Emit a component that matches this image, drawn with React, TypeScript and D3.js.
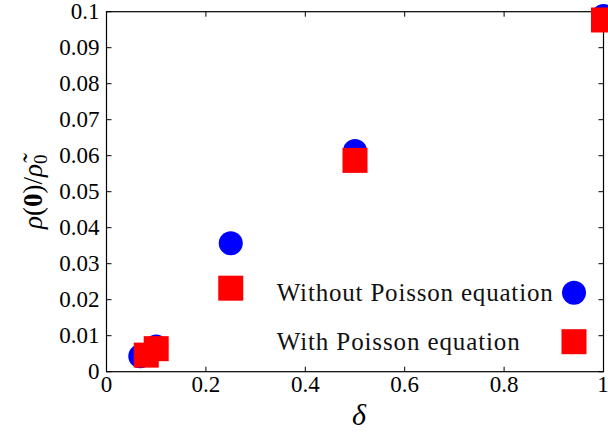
import React, { useEffect, useRef } from "react";
import * as d3 from "d3";

// delta values and normalised central density
const deltaWithout = [0.068, 0.1, 0.25, 0.5, 1.0];
const rhoWithout = [0.0043, 0.007, 0.0357, 0.0613, 0.0988];
const deltaWith = [0.08, 0.1, 0.25, 0.5, 1.0];
const rhoWith = [0.0046, 0.0064, 0.0232, 0.0587, 0.0977];

const xTicks = [0, 0.2, 0.4, 0.6, 0.8, 1];
const yTicks = [0, 0.01, 0.02, 0.03, 0.04, 0.05, 0.06, 0.07, 0.08, 0.09, 0.1];
const xTickLabels = ["0", "0.2", "0.4", "0.6", "0.8", "1"];
const yTickLabels = ["0", "0.01", "0.02", "0.03", "0.04", "0.05", "0.06", "0.07", "0.08", "0.09", "0.1"];

const legendLabels = ["Without Poisson equation", "With Poisson equation"];
const legendWidths = [276, 243];

const W = 608;
const H = 435;
const margin = { left: 106.5, right: 4.5, top: 11.7, bottom: 63.3 };
const FONT = "Liberation Serif, DejaVu Serif, serif";

export default function App() {
  const svgRef = useRef<SVGSVGElement>(null);

  useEffect(() => {
    const svg = d3.select(svgRef.current);
    svg.selectAll("*").remove();

    const x = d3.scaleLinear().domain([0, 1]).range([margin.left, W - margin.right]);
    const y = d3.scaleLinear().domain([0, 0.1]).range([H - margin.bottom, margin.top]);
    const x0 = x.range()[0], x1 = x.range()[1];
    const y0 = y.range()[0], y1 = y.range()[1];
    const tl = 5;

    const g = svg.append("g").attr("font-family", FONT);

    // ticks inward on all four sides
    xTicks.forEach((t) => {
      g.append("line").attr("x1", x(t)).attr("x2", x(t)).attr("y1", y0).attr("y2", y0 - tl).attr("stroke", "#000");
      g.append("line").attr("x1", x(t)).attr("x2", x(t)).attr("y1", y1).attr("y2", y1 + tl).attr("stroke", "#000");
    });
    yTicks.forEach((t) => {
      g.append("line").attr("x1", x0).attr("x2", x0 + tl).attr("y1", y(t)).attr("y2", y(t)).attr("stroke", "#000");
      g.append("line").attr("x1", x1).attr("x2", x1 - tl).attr("y1", y(t)).attr("y2", y(t)).attr("stroke", "#000");
    });

    g.append("rect")
      .attr("x", x0).attr("y", y1)
      .attr("width", x1 - x0).attr("height", y0 - y1)
      .attr("fill", "none").attr("stroke", "#000").attr("stroke-width", 1.2);

    g.selectAll(".xt")
      .data(xTicks)
      .join("text")
      .attr("x", (d) => Math.min(x(d), W - 5))
      .attr("y", y0 + 20)
      .attr("text-anchor", "middle")
      .attr("font-size", 23)
      .text((d, i) => xTickLabels[i]);

    g.selectAll(".yt")
      .data(yTicks)
      .join("text")
      .attr("x", x0 - 7)
      .attr("y", (d) => y(d) + 7.5)
      .attr("text-anchor", "end")
      .attr("font-size", 23)
      .text((d, i) => yTickLabels[i]);

    // points: circles first, squares on top
    const r = 12;
    const s = 25;
    g.selectAll(".c")
      .data(deltaWithout)
      .join("circle")
      .attr("cx", (d) => x(d))
      .attr("cy", (d, i) => y(rhoWithout[i]))
      .attr("r", r)
      .attr("fill", "#0000ff");
    g.selectAll(".s")
      .data(deltaWith)
      .join("rect")
      .attr("x", (d) => x(d) - s / 2)
      .attr("y", (d, i) => y(rhoWith[i]) - s / 2)
      .attr("width", s)
      .attr("height", s)
      .attr("fill", "#ff0000");

    // legend (labels left, markers right)
    const lx = 276.7;
    const mx = 574;
    const rows = [292.7, 341.7];
    legendLabels.forEach((lab, i) => {
      g.append("text")
        .attr("x", lx)
        .attr("y", rows[i] + 8)
        .attr("font-size", 25)
        .attr("textLength", legendWidths[i])
        .attr("lengthAdjust", "spacing")
        .attr("fill", "#111")
        .text(lab);
    });
    g.append("circle").attr("cx", mx).attr("cy", rows[0]).attr("r", r).attr("fill", "#0000ff");
    g.append("rect").attr("x", mx - s / 2).attr("y", rows[1] - s / 2).attr("width", s).attr("height", s).attr("fill", "#ff0000");

    // axis labels
    g.append("text")
      .attr("x", (x0 + x1) / 2 + 4)
      .attr("y", 425)
      .attr("text-anchor", "middle")
      .attr("font-style", "italic")
      .attr("font-size", 30)
      .text("δ");

    const yl = g.append("text")
      .attr("transform", `translate(42,${(y0 + y1) / 2}) rotate(-90)`)
      .attr("text-anchor", "middle")
      .attr("font-size", 27);
    yl.append("tspan").attr("font-style", "italic").text("ρ");
    yl.append("tspan").text("(");
    yl.append("tspan").attr("font-weight", "bold").text("0");
    yl.append("tspan").text(")/");
    yl.append("tspan").attr("font-style", "italic").text("ρ̃");
    yl.append("tspan").attr("font-size", 19).attr("dy", 5).text("0");
  }, []);

  return (
    <svg
      ref={svgRef}
      width={W}
      height={H}
      style={{ position: "absolute", left: 0, top: 0, background: "#fff" }}
    />
  );
}
